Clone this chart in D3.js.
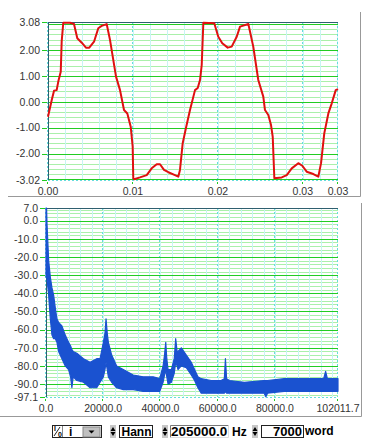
<!DOCTYPE html>
<html><head><meta charset="utf-8">
<script src="https://cdn.jsdelivr.net/npm/d3@7"></script>
<style>
body{margin:0;background:#fff}
svg{display:block}
text{font-family:"Liberation Sans",Arial,sans-serif}
</style>
</head><body>
<svg id="c" width="374" height="447"></svg>
<script>
// ---------- data: waveform (top) ----------
const waveTime = [0,0.00044,0.00071,0.00102,0.00121,0.00150,0.00161,0.00180,0.00259,0.00306,0.00345,0.00397,0.00447,0.00486,0.00542,0.00592,0.00632,0.00691,0.00730,0.00801,0.00848,0.00895,0.00934,0.00974,0.00997,0.01004,0.01013,0.01083,0.01162,0.01221,0.01280,0.01319,0.01366,0.01417,0.01495,0.01534,0.01554,0.01586,0.01625,0.01672,0.01731,0.01763,0.01790,0.01810,0.01829,0.01958,0.02005,0.02052,0.02116,0.02163,0.02222,0.02261,0.02359,0.02417,0.02476,0.02535,0.02555,0.02594,0.02626,0.02646,0.02665,0.02752,0.02811,0.02870,0.02947,0.02994,0.03046,0.03124,0.03183,0.03215,0.03253,0.03301,0.03341,0.03388,0.034146];
const waveValue = [-0.58,0.07,0.43,0.45,0.78,1.16,2.32,3.05,3.05,3.00,2.45,2.28,2.09,2.09,2.32,2.84,2.93,3.00,2.39,0.97,0.45,-0.32,-0.45,-0.96,-1.73,-2.95,-2.99,-2.92,-2.83,-2.57,-2.41,-2.41,-2.63,-2.72,-2.83,-2.89,-2.63,-1.60,-1.00,-0.32,0.45,0.53,0.84,1.42,3.05,3.03,2.51,2.26,2.09,2.13,2.51,2.90,3.00,2.13,0.84,0.20,-0.32,-0.51,-0.90,-1.35,-2.95,-2.92,-2.83,-2.57,-2.37,-2.47,-2.70,-2.79,-2.89,-2.37,-1.22,-0.45,-0.06,0.45,0.49];
const waveYDomain = [-3.02, 3.08];
const waveXDomain = [0, 0.034146];
const waveYTicks = [3.08, 2, 1, 0, -1, -2, -3.02];
const waveXTicks = [0, 0.01, 0.02, 0.03, 0.034146];

// ---------- data: spectrum (bottom), envelope ----------
const specFreq = [0,200,348,927,1506,2086,2665,3244,3824,4403,5562,6721,7880,8600,9038,9500,10776,13094,15411,17729,18888,20046,20600,20973,21400,21785,22943,24681,26999,30475,33951,37427,39745,40904,41400,41831,42200,42642,43801,44800,45307,45800,46118,47277,49015,50753,51912,53071,54229,57706,61182,62300,62688,63100,64079,69293,76200,76825,77400,83198,90151,97000,97683,98300,102011.7];
const specHigh = [7,7,-1.5,-22,-31,-37,-41,-48,-54,-56,-58,-63,-67,-69,-71,-72,-73,-76,-78,-76,-76,-67,-62,-54,-62,-67,-74,-80,-82,-85,-86,-86,-87,-80,-74,-67,-76,-82,-82,-76,-65,-72,-72,-70,-74,-78,-82,-86,-87,-88,-88,-87,-76,-87,-88,-89,-88,-88,-88,-87,-87,-87,-83,-87,-87];
const specLow = [-31,-31,-32,-41,-54,-63,-65,-65,-67,-72,-76,-80,-82,-86,-92,-86,-88,-89,-92,-92,-89,-86,-82,-78,-82,-86,-89,-92,-93,-93,-94,-94,-94,-89,-85,-82,-86,-90,-89,-84,-78,-80,-82,-80,-81,-85,-88,-92,-95,-95,-95,-95,-94,-95,-95,-95,-95,-97,-95,-94,-94,-94,-94,-94,-94];
const specYDomain = [-97.1, 7.0];
const specXDomain = [0, 102011.7];
const specYTicks = [7, 0, -10, -20, -30, -40, -50, -60, -70, -80, -90, -97.1];
const specXTicks = [0, 20000, 40000, 60000, 80000, 102011.7];

// ---------- controls ----------
const ctrlWindow = "Hann";
const ctrlRate = "205000.0";
const ctrlUnit = "Hz";
const ctrlWords = "7000";
const ctrlWordLabel = "word";

const svg = d3.select("#c");
const C = {major:"#22cc22", minor:"#aaf0aa", vmajor:"#66dddd", vminor:"#c8f4f4", frame:"#2f5f6f", label:"#333"};

function drawPanel(o){
  const g = svg.append("g");
  const x = d3.scaleLinear().domain(o.xd).range([o.l, o.r]);
  const y = d3.scaleLinear().domain(o.yd).range([o.b, o.t]);
  g.selectAll(".hm").data(d3.range(Math.ceil(o.yd[0]/o.ym)*o.ym, o.yd[1], o.ym)).join("line")
    .attr("x1",o.l).attr("x2",o.r).attr("y1",d=>Math.round(y(d))+0.5).attr("y2",d=>Math.round(y(d))+0.5)
    .attr("stroke",C.minor).attr("stroke-width",1);
  g.selectAll(".vm").data(d3.range(0, o.xd[1], o.xm)).join("line")
    .attr("y1",o.t).attr("y2",o.b).attr("x1",d=>Math.round(x(d))+0.5).attr("x2",d=>Math.round(x(d))+0.5)
    .attr("stroke",C.vminor).attr("stroke-width",1);
  g.selectAll(".vM").data(o.xt).join("line")
    .attr("y1",o.t).attr("y2",o.b).attr("x1",d=>Math.round(x(d))-0.5).attr("x2",d=>Math.round(x(d))-0.5)
    .attr("stroke",C.vmajor).attr("stroke-width",1).attr("stroke-dasharray","2,2");
  g.selectAll(".hM").data(d3.range(Math.ceil(o.yd[0]/o.yM)*o.yM, o.yd[1], o.yM)).join("line")
    .attr("x1",o.l).attr("x2",o.r).attr("y1",d=>Math.round(y(d))+0.5).attr("y2",d=>Math.round(y(d))+0.5)
    .attr("stroke",C.major).attr("stroke-width",1);
  g.append("line").attr("x1",o.l).attr("x2",o.r).attr("y1",o.b+0.5).attr("y2",o.b+0.5).attr("stroke",C.vmajor).attr("stroke-dasharray","2,2");
  g.append("line").attr("x1",o.l).attr("x2",o.r).attr("y1",o.t+0.5).attr("y2",o.t+0.5).attr("stroke",C.frame).attr("stroke-width",1);
  g.append("line").attr("x1",o.l+0.5).attr("x2",o.l+0.5).attr("y1",o.t).attr("y2",o.b).attr("stroke",C.frame).attr("stroke-width",1);
  g.selectAll(".yt").data(o.yt).join("line")
    .attr("x1",o.l-6).attr("x2",o.l-1).attr("y1",d=>Math.round(y(d))+0.5).attr("y2",d=>Math.round(y(d))+0.5)
    .attr("stroke","#22cc22").attr("stroke-width",1);
  g.selectAll(".yl").data(o.yt).join("text")
    .attr("x",o.l-8).attr("y",d=>y(d)).attr("dy","0.36em").attr("text-anchor","end")
    .attr("font-size",10.5).attr("fill",C.label).text(d=>d3.format(o.yf)(d).replace("−","-"));
  g.selectAll(".xt").data(o.xt).join("rect")
    .attr("x",d=>Math.round(x(d))-1).attr("y",o.b+2).attr("width",1).attr("height",2).attr("fill","#22cc22");
  g.selectAll(".xl").data(o.xt).join("text")
    .attr("x",d=>x(d)).attr("y",o.xly).attr("text-anchor","middle")
    .attr("font-size",10.5).attr("fill",C.label).text(d=>d3.format(o.xf)(d));
  return {g,x,y};
}

svg.append("path").attr("d","M8,196.5H360.5V12").attr("fill","none").attr("stroke","#999");
svg.append("path").attr("d","M0,416.5H361.5V203").attr("fill","none").attr("stroke","#999");

const P1 = drawPanel({l:48,r:338,t:22,b:180,xd:waveXDomain,yd:waveYDomain,xm:0.002,ym:0.2,yM:1,
  yt:waveYTicks,xt:waveXTicks,yf:".2f",xf:".2f",xly:195});
const wave = waveTime.map((t,i)=>[t,waveValue[i]]);
P1.g.append("path").datum(wave)
  .attr("d",d3.line().x(d=>P1.x(d[0])).y(d=>P1.y(d[1])))
  .attr("fill","none").attr("stroke","#e01010").attr("stroke-width",2).attr("stroke-linejoin","round");

const P2 = drawPanel({l:46,r:338,t:208,b:397,xd:specXDomain,yd:specYDomain,xm:4000,ym:2,yM:10,
  yt:specYTicks,xt:specXTicks,yf:".1f",xf:".1f",xly:412});
const spec = specFreq.map((f,i)=>({f,hi:specHigh[i],lo:specLow[i]}));
P2.g.append("path").datum(spec)
  .attr("d",d3.area().x(d=>P2.x(d.f)).y0(d=>P2.y(d.lo)).y1(d=>P2.y(d.hi)))
  .attr("fill","#1a52d0").attr("stroke","#1a52d0").attr("stroke-width",1.2).attr("stroke-linejoin","round");

const cb = svg.append("g");
function spinner(x){
  cb.append("rect").attr("x",x).attr("y",425).attr("width",6).attr("height",13).attr("fill","#c8c8c8");
  cb.append("path").attr("d",`M${x+0.5},431L${x+3},427L${x+5.5},431Z`).attr("fill","#000");
  cb.append("path").attr("d",`M${x+0.5},432L${x+3},436L${x+5.5},432Z`).attr("fill","#000");
}
cb.append("rect").attr("x",52.5).attr("y",425.5).attr("width",49).attr("height",12).attr("fill","#fff").attr("stroke","#222");
cb.append("text").attr("x",54).attr("y",431).attr("font-size",7).attr("font-weight","bold").text("I");
cb.append("line").attr("x1",54).attr("y1",436).attr("x2",60).attr("y2",427).attr("stroke","#222");
cb.append("text").attr("x",58).attr("y",437).attr("font-size",7).attr("font-weight","bold").text("0");
cb.append("line").attr("x1",62.5).attr("y1",426).attr("x2",62.5).attr("y2",437).attr("stroke","#888");
cb.append("text").attr("x",69).attr("y",436).attr("font-size",12).attr("font-weight","bold").text("i");
cb.append("rect").attr("x",83).attr("y",427).attr("width",17).attr("height",10).attr("fill","#c0c0c0").attr("stroke","#888");
cb.append("path").attr("d","M88.5,430.5H94.5L91.5,433.5Z").attr("fill","#000");
spinner(110);
cb.append("rect").attr("x",119.5).attr("y",425.5).attr("width",33).attr("height",12).attr("fill","#fff").attr("stroke","#222");
cb.append("text").attr("x",121.5).attr("y",436).attr("font-size",12).attr("font-weight","bold").text(ctrlWindow);
spinner(162);
cb.append("path").attr("d","M170.5,437.5V425.5H228.5").attr("fill","none").attr("stroke","#777");
cb.append("path").attr("d","M228.5,425.5V437.5H170.5").attr("fill","none").attr("stroke","#ddd");
cb.append("text").attr("x",171).attr("y",436).attr("font-size",13.5).attr("font-weight","bold").text(ctrlRate);
cb.append("text").attr("x",232).attr("y",436).attr("font-size",12).attr("font-weight","bold").text(ctrlUnit);
spinner(252);
cb.append("rect").attr("x",261.5).attr("y",425.5).attr("width",42).attr("height",12).attr("fill","#fff").attr("stroke","#222");
cb.append("text").attr("x",302).attr("y",436).attr("text-anchor","end").attr("font-size",13).attr("font-weight","bold").text(ctrlWords);
cb.append("text").attr("x",305).attr("y",435).attr("font-size",12).attr("font-weight","bold").text(ctrlWordLabel);
</script>
</body></html>
